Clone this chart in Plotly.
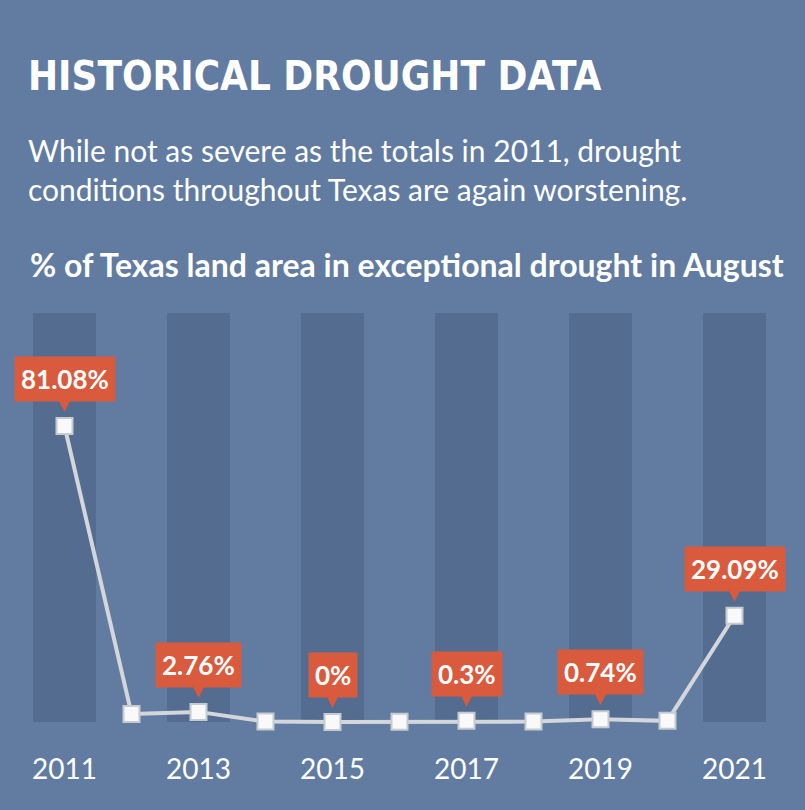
import plotly.graph_objects as go

# August exceptional drought share of Texas land area (%)
years = [2011, 2012, 2013, 2014, 2015, 2016, 2017, 2018, 2019, 2020, 2021]
pct = [81.08, 2.2, 2.76, 0.1, 0.0, 0.05, 0.3, 0.1, 0.74, 0.3, 29.09]

# years that get a callout and a dark band
label_years = [2011, 2013, 2015, 2017, 2019, 2021]
label_text = ["81.08%", "2.76%", "0%", "0.3%", "0.74%", "29.09%"]
band_top = 112

BG = "#617ca0"
BAND = "#536c90"
CALLOUT = "#d95a3c"

fig = go.Figure()

# dark background columns
fig.add_trace(go.Bar(x=label_years, y=[band_top] * len(label_years),
                     width=0.955, marker=dict(color=BAND, line=dict(width=0)),
                     hoverinfo="skip", showlegend=False))

fig.add_trace(go.Scatter(x=years, y=pct, mode="lines+markers",
                         line=dict(color="#d3d6db", width=4),
                         marker=dict(symbol="square", size=16, color="#f9f9f9",
                                     line=dict(color="#c6cbd2", width=2)),
                         showlegend=False))

val = dict(zip(years, pct))
for yr, txt in zip(label_years, label_text):
    fig.add_annotation(x=yr, y=val[yr], text="<b>" + txt + "</b>",
                       showarrow=True, ax=0, ay=-47, axref="pixel", ayref="pixel",
                       arrowhead=2, arrowsize=1, arrowwidth=3.6, arrowcolor=CALLOUT,
                       standoff=14, bgcolor=CALLOUT, borderpad=6,
                       font=dict(family="Lato", size=26, color="white"))

title_font = "Liberation Sans Narrow, DejaVu Sans Condensed, DejaVu Sans, sans-serif"
fig.add_annotation(x=-0.007, y=0.937, xref="paper", yref="paper", xanchor="left", yanchor="top",
                   text="<b>HISTORICAL DROUGHT DATA</b>", showarrow=False,
                   font=dict(family=title_font, size=40, color="white"))
fig.add_annotation(x=-0.007, y=0.839, xref="paper", yref="paper", xanchor="left", yanchor="top",
                   text="While not as severe as the totals in 2011, drought<br>"
                        "conditions throughout Texas are again worstening.",
                   showarrow=False, align="left",
                   font=dict(family="Lato", size=30, color="white"))
fig.add_annotation(x=-0.004, y=0.700, xref="paper", yref="paper", xanchor="left", yanchor="top",
                   text="<b>% of Texas land area in exceptional drought in August</b>",
                   showarrow=False, font=dict(family="Lato", size=32, color="white"))

fig.update_layout(
    width=805, height=810,
    margin=dict(l=31, r=37, t=0, b=0),
    paper_bgcolor=BG, plot_bgcolor=BG,
    bargap=0,
    xaxis=dict(range=[2010.5, 2021.5], domain=[0, 1],
               tickmode="array", tickvals=label_years,
               ticktext=[str(y) for y in label_years],
               tickfont=dict(family="Lato", size=28, color="white"),
               showgrid=False, zeroline=False, showline=False, ticks=""),
    yaxis=dict(range=[-7.7, 197.8], domain=[0.074, 1],
               showgrid=False, zeroline=False, showticklabels=False),
)

fig.write_html("out.html", config={"displayModeBar": False},
               post_script="document.body.style.margin='0';")
